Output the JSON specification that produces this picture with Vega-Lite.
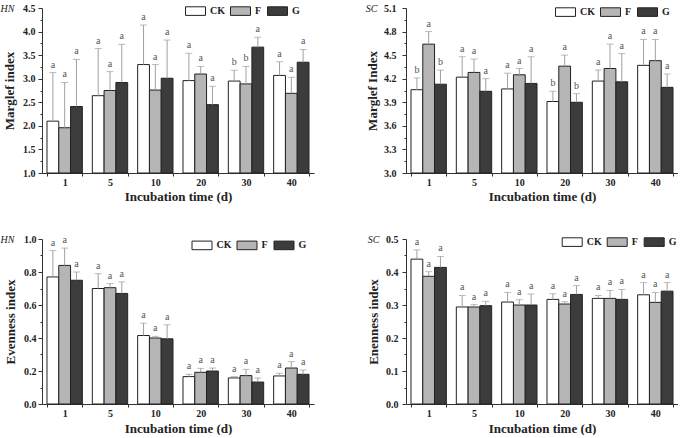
{
  "$schema": "https://vega.github.io/schema/vega-lite/v6.json",
  "padding": {"left": 0, "top": 0, "right": 0, "bottom": 0},
  "background": "white",
  "config": {
    "font": "Liberation Serif",
    "view": {"stroke": null},
    "axis": {
      "domainColor": "#333", "tickColor": "#333", "grid": false,
      "labelFont": "Liberation Serif", "labelFontWeight": "bold", "labelFontSize": 10, "labelColor": "#222",
      "titleFont": "Liberation Serif", "titleFontWeight": "bold", "titleFontSize": 13, "titleColor": "#222"
    },
    "legend": {
      "orient": "none", "direction": "horizontal", "title": null,
      "symbolType": "M-1,-0.43H1V0.43H-1Z", "symbolSize": 400, "symbolStrokeColor": "#222", "symbolStrokeWidth": 1,
      "labelFont": "Liberation Serif", "labelFontWeight": "bold", "labelFontSize": 10, "labelColor": "#222",
      "labelOffset": 4, "columnPadding": 3
    }
  },
  "data": {"values": [
    {"p":"HM","d":1,"t":"CK","v":2.10,"e":3.13,"l":"a"},
    {"p":"HM","d":1,"t":"F","v":1.96,"e":2.92,"l":"a"},
    {"p":"HM","d":1,"t":"G","v":2.41,"e":3.41,"l":"a"},
    {"p":"HM","d":5,"t":"CK","v":2.64,"e":3.64,"l":"a"},
    {"p":"HM","d":5,"t":"F","v":2.75,"e":3.15,"l":"a"},
    {"p":"HM","d":5,"t":"G","v":2.92,"e":3.73,"l":"a"},
    {"p":"HM","d":10,"t":"CK","v":3.30,"e":4.14,"l":"a"},
    {"p":"HM","d":10,"t":"F","v":2.76,"e":3.30,"l":"a"},
    {"p":"HM","d":10,"t":"G","v":3.01,"e":3.82,"l":"a"},
    {"p":"HM","d":20,"t":"CK","v":2.96,"e":3.54,"l":"a"},
    {"p":"HM","d":20,"t":"F","v":3.10,"e":3.26,"l":"a"},
    {"p":"HM","d":20,"t":"G","v":2.45,"e":2.84,"l":"a"},
    {"p":"HM","d":30,"t":"CK","v":2.95,"e":3.18,"l":"b"},
    {"p":"HM","d":30,"t":"F","v":2.89,"e":3.26,"l":"b"},
    {"p":"HM","d":30,"t":"G","v":3.67,"e":3.88,"l":"a"},
    {"p":"HM","d":40,"t":"CK","v":3.07,"e":3.36,"l":"a"},
    {"p":"HM","d":40,"t":"F","v":2.69,"e":3.03,"l":"a"},
    {"p":"HM","d":40,"t":"G","v":3.35,"e":3.62,"l":"a"},

    {"p":"SM","d":1,"t":"CK","v":4.06,"e":4.21,"l":"b"},
    {"p":"SM","d":1,"t":"F","v":4.64,"e":4.80,"l":"a"},
    {"p":"SM","d":1,"t":"G","v":4.13,"e":4.31,"l":"b"},
    {"p":"SM","d":5,"t":"CK","v":4.22,"e":4.48,"l":"a"},
    {"p":"SM","d":5,"t":"F","v":4.28,"e":4.45,"l":"a"},
    {"p":"SM","d":5,"t":"G","v":4.04,"e":4.20,"l":"a"},
    {"p":"SM","d":10,"t":"CK","v":4.07,"e":4.27,"l":"a"},
    {"p":"SM","d":10,"t":"F","v":4.25,"e":4.33,"l":"a"},
    {"p":"SM","d":10,"t":"G","v":4.14,"e":4.48,"l":"a"},
    {"p":"SM","d":20,"t":"CK","v":3.91,"e":4.04,"l":"b"},
    {"p":"SM","d":20,"t":"F","v":4.36,"e":4.50,"l":"a"},
    {"p":"SM","d":20,"t":"G","v":3.90,"e":4.01,"l":"b"},
    {"p":"SM","d":30,"t":"CK","v":4.17,"e":4.31,"l":"a"},
    {"p":"SM","d":30,"t":"F","v":4.33,"e":4.64,"l":"a"},
    {"p":"SM","d":30,"t":"G","v":4.16,"e":4.52,"l":"a"},
    {"p":"SM","d":40,"t":"CK","v":4.37,"e":4.70,"l":"a"},
    {"p":"SM","d":40,"t":"F","v":4.43,"e":4.70,"l":"a"},
    {"p":"SM","d":40,"t":"G","v":4.09,"e":4.26,"l":"a"},

    {"p":"HE","d":1,"t":"CK","v":0.77,"e":0.93,"l":"a"},
    {"p":"HE","d":1,"t":"F","v":0.84,"e":0.945,"l":"a"},
    {"p":"HE","d":1,"t":"G","v":0.75,"e":0.80,"l":"a"},
    {"p":"HE","d":5,"t":"CK","v":0.70,"e":0.79,"l":"a"},
    {"p":"HE","d":5,"t":"F","v":0.705,"e":0.73,"l":"a"},
    {"p":"HE","d":5,"t":"G","v":0.67,"e":0.74,"l":"a"},
    {"p":"HE","d":10,"t":"CK","v":0.415,"e":0.49,"l":"a"},
    {"p":"HE","d":10,"t":"F","v":0.40,"e":0.41,"l":"a"},
    {"p":"HE","d":10,"t":"G","v":0.395,"e":0.48,"l":"a"},
    {"p":"HE","d":20,"t":"CK","v":0.166,"e":0.18,"l":"a"},
    {"p":"HE","d":20,"t":"F","v":0.192,"e":0.216,"l":"a"},
    {"p":"HE","d":20,"t":"G","v":0.20,"e":0.218,"l":"a"},
    {"p":"HE","d":30,"t":"CK","v":0.158,"e":0.166,"l":"a"},
    {"p":"HE","d":30,"t":"F","v":0.172,"e":0.21,"l":"a"},
    {"p":"HE","d":30,"t":"G","v":0.133,"e":0.158,"l":"a"},
    {"p":"HE","d":40,"t":"CK","v":0.17,"e":0.186,"l":"a"},
    {"p":"HE","d":40,"t":"F","v":0.218,"e":0.257,"l":"a"},
    {"p":"HE","d":40,"t":"G","v":0.18,"e":0.206,"l":"a"},

    {"p":"SE","d":1,"t":"CK","v":0.439,"e":0.467,"l":"a"},
    {"p":"SE","d":1,"t":"F","v":0.387,"e":0.401,"l":"a"},
    {"p":"SE","d":1,"t":"G","v":0.414,"e":0.447,"l":"a"},
    {"p":"SE","d":5,"t":"CK","v":0.294,"e":0.329,"l":"a"},
    {"p":"SE","d":5,"t":"F","v":0.294,"e":0.301,"l":"a"},
    {"p":"SE","d":5,"t":"G","v":0.298,"e":0.311,"l":"a"},
    {"p":"SE","d":10,"t":"CK","v":0.309,"e":0.338,"l":"a"},
    {"p":"SE","d":10,"t":"F","v":0.300,"e":0.316,"l":"a"},
    {"p":"SE","d":10,"t":"G","v":0.300,"e":0.333,"l":"a"},
    {"p":"SE","d":20,"t":"CK","v":0.317,"e":0.334,"l":"a"},
    {"p":"SE","d":20,"t":"F","v":0.303,"e":0.310,"l":"a"},
    {"p":"SE","d":20,"t":"G","v":0.332,"e":0.359,"l":"a"},
    {"p":"SE","d":30,"t":"CK","v":0.320,"e":0.329,"l":"a"},
    {"p":"SE","d":30,"t":"F","v":0.320,"e":0.344,"l":"a"},
    {"p":"SE","d":30,"t":"G","v":0.317,"e":0.347,"l":"a"},
    {"p":"SE","d":40,"t":"CK","v":0.331,"e":0.368,"l":"a"},
    {"p":"SE","d":40,"t":"F","v":0.308,"e":0.338,"l":"a"},
    {"p":"SE","d":40,"t":"G","v":0.342,"e":0.368,"l":"a"}
  ]},
  "columns": 2,
  "spacing": {"row": 28, "column": 51},
  "resolve": {"scale": {"fill": "independent", "y": "independent", "x": "independent"}},
  "concat": [
    {
      "width": 272, "height": 165,
      "transform": [{"filter": "datum.p == 'HM'"}],
      "encoding": {
        "x": {"field": "d", "type": "ordinal", "scale": {"paddingInner": 0.22, "paddingOuter": 0.11},
              "axis": {"title": "Incubation time (d)", "labelAngle": 0, "tickBand": "extent", "tickSize": 3, "labelPadding": 1, "titlePadding": 3}},
        "xOffset": {"field": "t", "type": "nominal", "sort": ["CK","F","G"], "scale": {"paddingInner": 0, "paddingOuter": 0}}
      },
      "layer": [
        {"mark": {"type": "bar", "stroke": "#222", "strokeWidth": 1},
         "encoding": {
           "y": {"field": "v", "type": "quantitative", "scale": {"domain": [1, 4.5], "nice": false, "zero": false},
                 "axis": {"title": "Marglef index", "values": [1,1.25,1.5,1.75,2,2.25,2.5,2.75,3,3.25,3.5,3.75,4,4.25,4.5],
                          "labelExpr": "abs(datum.value*2 - round(datum.value*2)) < 0.01 ? format(datum.value, '.1f') : ''",
                          "labelOverlap": false,
                          "tickSize": {"condition": {"test": "abs(datum.value*2 - round(datum.value*2)) < 0.01", "value": 4}, "value": 2},
                          "labelPadding": 3, "titlePadding": 6}},
           "y2": {"datum": 1},
           "fill": {"field": "t", "type": "nominal", "sort": ["CK","F","G"],
                    "scale": {"domain": ["CK","F","G"], "range": ["#ffffff","#b5b5b5","#3c3c3c"]},
                    "legend": {"legendX": 143, "legendY": -7.5}}
         }},
        {"mark": {"type": "rule", "color": "#a0a0a0"},
         "encoding": {
           "y": {"field": "v", "type": "quantitative",
                 "axis": {"orient": "left", "values": [4.5], "labelExpr": "'HN'", "ticks": false, "domain": false, "title": null,
                          "labelPadding": 28, "labelFontStyle": "italic", "labelFontWeight": "normal", "labelFontSize": 10}},
           "y2": {"field": "e"}
         }},
        {"mark": {"type": "tick", "color": "#a0a0a0", "thickness": 1, "size": 7},
         "encoding": {"y": {"field": "e", "type": "quantitative", "axis": null}}},
        {"mark": {"type": "text", "baseline": "bottom", "dy": -3, "font": "Liberation Serif", "fontSize": 10, "color": "#555"},
         "encoding": {"y": {"field": "e", "type": "quantitative", "axis": null}, "text": {"field": "l"}}}
      ],
      "resolve": {"axis": {"y": "independent"}}
    },
    {
      "width": 272, "height": 165,
      "transform": [{"filter": "datum.p == 'SM'"}],
      "encoding": {
        "x": {"field": "d", "type": "ordinal", "scale": {"paddingInner": 0.22, "paddingOuter": 0.11},
              "axis": {"title": "Incubation time (d)", "labelAngle": 0, "tickBand": "extent", "tickSize": 3, "labelPadding": 1, "titlePadding": 3}},
        "xOffset": {"field": "t", "type": "nominal", "sort": ["CK","F","G"], "scale": {"paddingInner": 0, "paddingOuter": 0}}
      },
      "layer": [
        {"mark": {"type": "bar", "stroke": "#222", "strokeWidth": 1},
         "encoding": {
           "y": {"field": "v", "type": "quantitative", "scale": {"domain": [3, 5.1], "nice": false, "zero": false},
                 "axis": {"title": "Marglef Index", "values": [3,3.15,3.3,3.45,3.6,3.75,3.9,4.05,4.2,4.35,4.5,4.65,4.8,4.95,5.1],
                          "labelExpr": "round(datum.value*100) % 30 == 0 ? format(datum.value, '.1f') : ''",
                          "labelOverlap": false,
                          "tickSize": {"condition": {"test": "round(datum.value*100) % 30 == 0", "value": 4}, "value": 2},
                          "labelPadding": 6, "titlePadding": 4}},
           "y2": {"datum": 3},
           "fill": {"field": "t", "type": "nominal", "sort": ["CK","F","G"],
                    "scale": {"domain": ["CK","F","G"], "range": ["#ffffff","#b5b5b5","#3c3c3c"]},
                    "legend": {"legendX": 149, "legendY": -6.5}}
         }},
        {"mark": {"type": "rule", "color": "#a0a0a0"},
         "encoding": {
           "y": {"field": "v", "type": "quantitative",
                 "axis": {"orient": "left", "values": [5.1], "labelExpr": "'SC'", "ticks": false, "domain": false, "title": null,
                          "labelPadding": 29, "labelFontStyle": "italic", "labelFontWeight": "normal", "labelFontSize": 10}},
           "y2": {"field": "e"}
         }},
        {"mark": {"type": "tick", "color": "#a0a0a0", "thickness": 1, "size": 7},
         "encoding": {"y": {"field": "e", "type": "quantitative", "axis": null}}},
        {"mark": {"type": "text", "baseline": "bottom", "dy": -3, "font": "Liberation Serif", "fontSize": 10, "color": "#555"},
         "encoding": {"y": {"field": "e", "type": "quantitative", "axis": null}, "text": {"field": "l"}}}
      ],
      "resolve": {"axis": {"y": "independent"}}
    },
    {
      "width": 272, "height": 165,
      "transform": [{"filter": "datum.p == 'HE'"}],
      "encoding": {
        "x": {"field": "d", "type": "ordinal", "scale": {"paddingInner": 0.22, "paddingOuter": 0.11},
              "axis": {"title": "Incubation time (d)", "labelAngle": 0, "tickBand": "extent", "tickSize": 3, "labelPadding": 1, "titlePadding": 4}},
        "xOffset": {"field": "t", "type": "nominal", "sort": ["CK","F","G"], "scale": {"paddingInner": 0, "paddingOuter": 0}}
      },
      "layer": [
        {"mark": {"type": "bar", "stroke": "#222", "strokeWidth": 1},
         "encoding": {
           "y": {"field": "v", "type": "quantitative", "scale": {"domain": [0, 1], "nice": false, "zero": false},
                 "axis": {"title": "Evenness index", "values": [0,0.1,0.2,0.3,0.4,0.5,0.6,0.7,0.8,0.9,1],
                          "labelExpr": "round(datum.value*10) % 2 == 0 ? format(datum.value, '.1f') : ''",
                          "labelOverlap": false,
                          "tickSize": {"condition": {"test": "round(datum.value*10) % 2 == 0", "value": 4}, "value": 2},
                          "labelPadding": 2, "titlePadding": 6}},
           "y2": {"datum": 0},
           "fill": {"field": "t", "type": "nominal", "sort": ["CK","F","G"],
                    "scale": {"domain": ["CK","F","G"], "range": ["#ffffff","#b5b5b5","#3c3c3c"]},
                    "legend": {"legendX": 149.5, "legendY": -4.2}}
         }},
        {"mark": {"type": "rule", "color": "#a0a0a0"},
         "encoding": {
           "y": {"field": "v", "type": "quantitative",
                 "axis": {"orient": "left", "values": [1], "labelExpr": "'HN'", "ticks": false, "domain": false, "title": null,
                          "labelPadding": 28, "labelFontStyle": "italic", "labelFontWeight": "normal", "labelFontSize": 10}},
           "y2": {"field": "e"}
         }},
        {"mark": {"type": "tick", "color": "#a0a0a0", "thickness": 1, "size": 7},
         "encoding": {"y": {"field": "e", "type": "quantitative", "axis": null}}},
        {"mark": {"type": "text", "baseline": "bottom", "dy": -3, "font": "Liberation Serif", "fontSize": 10, "color": "#555"},
         "encoding": {"y": {"field": "e", "type": "quantitative", "axis": null}, "text": {"field": "l"}}}
      ],
      "resolve": {"axis": {"y": "independent"}}
    },
    {
      "width": 272, "height": 165,
      "transform": [{"filter": "datum.p == 'SE'"}],
      "encoding": {
        "x": {"field": "d", "type": "ordinal", "scale": {"paddingInner": 0.22, "paddingOuter": 0.11},
              "axis": {"title": "Incubation time (d)", "labelAngle": 0, "tickBand": "extent", "tickSize": 3, "labelPadding": 1, "titlePadding": 4}},
        "xOffset": {"field": "t", "type": "nominal", "sort": ["CK","F","G"], "scale": {"paddingInner": 0, "paddingOuter": 0}}
      },
      "layer": [
        {"mark": {"type": "bar", "stroke": "#222", "strokeWidth": 1},
         "encoding": {
           "y": {"field": "v", "type": "quantitative", "scale": {"domain": [0, 0.5], "nice": false, "zero": false},
                 "axis": {"title": "Enenness index", "values": [0,0.05,0.1,0.15,0.2,0.25,0.3,0.35,0.4,0.45,0.5],
                          "labelExpr": "round(datum.value*100) % 10 == 0 ? format(datum.value, '.1f') : ''",
                          "labelOverlap": false,
                          "tickSize": {"condition": {"test": "round(datum.value*100) % 10 == 0", "value": 4}, "value": 2},
                          "labelPadding": 4, "titlePadding": 5}},
           "y2": {"datum": 0},
           "fill": {"field": "t", "type": "nominal", "sort": ["CK","F","G"],
                    "scale": {"domain": ["CK","F","G"], "range": ["#ffffff","#b5b5b5","#3c3c3c"]},
                    "legend": {"legendX": 155.7, "legendY": -7.5}}
         }},
        {"mark": {"type": "rule", "color": "#a0a0a0"},
         "encoding": {
           "y": {"field": "v", "type": "quantitative",
                 "axis": {"orient": "left", "values": [0.5], "labelExpr": "'SC'", "ticks": false, "domain": false, "title": null,
                          "labelPadding": 27, "labelFontStyle": "italic", "labelFontWeight": "normal", "labelFontSize": 10}},
           "y2": {"field": "e"}
         }},
        {"mark": {"type": "tick", "color": "#a0a0a0", "thickness": 1, "size": 7},
         "encoding": {"y": {"field": "e", "type": "quantitative", "axis": null}}},
        {"mark": {"type": "text", "baseline": "bottom", "dy": -3, "font": "Liberation Serif", "fontSize": 10, "color": "#555"},
         "encoding": {"y": {"field": "e", "type": "quantitative", "axis": null}, "text": {"field": "l"}}}
      ],
      "resolve": {"axis": {"y": "independent"}}
    }
  ]
}
